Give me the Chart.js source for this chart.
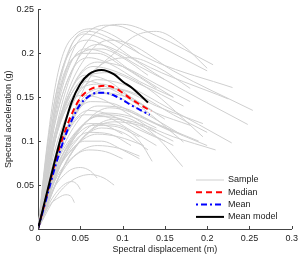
<!DOCTYPE html>
<html>
<head>
<meta charset="utf-8">
<script src="https://cdn.jsdelivr.net/npm/chart.js@4"></script>
<style>
  html, body { margin: 0; padding: 0; background: #fff; }
  #wrap { width: 302px; height: 257px; }
</style>
</head>
<body>
<div id="wrap"><canvas id="capacityChart" width="302" height="257"></canvas></div>
<script>
// tick labels
const xTickLabels = ['0', '0.05', '0.1', '0.15', '0.2', '0.25', '0.3'];
const yTickLabels = ['0', '0.05', '0.1', '0.15', '0.2', '0.25'];
const legendLabels = ['Sample', 'Median', 'Mean', 'Mean model'];

// Sample curves: [displacement (m), acceleration (g)]
const samples = [
    [[0,0],[0.02,0.13],[0.04,0.2],[0.06,0.225],[0.08,0.232],[0.1,0.23],[0.13,0.215],[0.2,0.18]],
    [[0,0],[0.025,0.13],[0.05,0.2],[0.075,0.228],[0.1,0.233],[0.14,0.22],[0.207,0.187]],
    [[0,0],[0.02,0.14],[0.04,0.21],[0.06,0.225],[0.09,0.215],[0.14,0.19],[0.23,0.161]],
    [[0,0],[0.015,0.12],[0.035,0.2],[0.055,0.222],[0.08,0.215],[0.12,0.19],[0.225,0.148]],
    [[0,0],[0.03,0.14],[0.06,0.2],[0.085,0.215],[0.11,0.21],[0.16,0.18],[0.254,0.135]],
    [[0,0],[0.02,0.12],[0.045,0.19],[0.07,0.21],[0.1,0.2],[0.15,0.17],[0.248,0.119]],
    [[0,0],[0.015,0.1],[0.035,0.18],[0.055,0.205],[0.08,0.2],[0.11,0.18],[0.16,0.15]],
    [[0,0],[0.012,0.09],[0.03,0.17],[0.05,0.2],[0.07,0.2],[0.1,0.185],[0.14,0.16]],
    [[0,0],[0.03,0.1],[0.06,0.17],[0.09,0.2],[0.115,0.22],[0.14,0.225],[0.17,0.21],[0.2,0.183]],
    [[0,0],[0.01,0.09],[0.02,0.16],[0.03,0.2],[0.045,0.222],[0.065,0.228],[0.09,0.22],[0.12,0.2]],
    [[0,0],[0.012,0.1],[0.025,0.17],[0.04,0.205],[0.06,0.215],[0.085,0.205],[0.12,0.185],[0.15,0.17]],
    [[0,0],[0.015,0.11],[0.03,0.175],[0.05,0.2],[0.075,0.205],[0.1,0.195],[0.13,0.175]],
    [[0,0],[0.025,0.1],[0.05,0.16],[0.08,0.19],[0.11,0.195],[0.14,0.185],[0.18,0.16]],
    [[0,0],[0.02,0.1],[0.04,0.16],[0.065,0.185],[0.09,0.18],[0.13,0.16],[0.195,0.105]],
    [[0,0],[0.015,0.08],[0.035,0.145],[0.06,0.175],[0.085,0.178],[0.12,0.165],[0.172,0.14]],
    [[0,0],[0.02,0.09],[0.045,0.15],[0.07,0.17],[0.1,0.165],[0.15,0.14],[0.229,0.098]],
    [[0,0],[0.018,0.1],[0.04,0.155],[0.06,0.168],[0.085,0.16],[0.12,0.14],[0.172,0.099]],
    [[0,0],[0.025,0.09],[0.05,0.145],[0.075,0.16],[0.1,0.158],[0.14,0.14],[0.195,0.12]],
    [[0,0],[0.01,0.06],[0.03,0.13],[0.05,0.16],[0.075,0.165],[0.1,0.155],[0.135,0.135]],
    [[0,0],[0.02,0.08],[0.045,0.135],[0.07,0.155],[0.095,0.15],[0.13,0.13],[0.17,0.107]],
    [[0,0],[0.03,0.1],[0.06,0.15],[0.09,0.16],[0.12,0.152],[0.16,0.13],[0.2,0.11]],
    [[0,0],[0.012,0.07],[0.03,0.13],[0.05,0.152],[0.07,0.15],[0.1,0.135],[0.14,0.11]],
    [[0,0],[0.015,0.09],[0.035,0.15],[0.055,0.175],[0.08,0.17],[0.11,0.15],[0.15,0.125]],
    [[0,0],[0.022,0.11],[0.045,0.17],[0.07,0.19],[0.1,0.185],[0.14,0.165],[0.18,0.145]],
    [[0,0],[0.02,0.12],[0.04,0.18],[0.06,0.195],[0.085,0.188],[0.12,0.168],[0.16,0.15]],
    [[0,0],[0.02,0.07],[0.045,0.12],[0.07,0.14],[0.1,0.138],[0.14,0.12],[0.19,0.1]],
    [[0,0],[0.03,0.08],[0.06,0.125],[0.085,0.138],[0.11,0.133],[0.15,0.115],[0.2,0.095]],
    [[0,0],[0.015,0.06],[0.035,0.11],[0.055,0.13],[0.08,0.128],[0.11,0.112],[0.14,0.095]],
    [[0,0],[0.025,0.07],[0.05,0.115],[0.08,0.13],[0.11,0.125],[0.14,0.105],[0.171,0.071]],
    [[0,0],[0.02,0.06],[0.045,0.1],[0.07,0.12],[0.095,0.118],[0.12,0.1],[0.135,0.077]],
    [[0,0],[0.03,0.07],[0.06,0.11],[0.09,0.122],[0.12,0.118],[0.16,0.1]],
    [[0,0],[0.015,0.05],[0.035,0.09],[0.06,0.11],[0.085,0.108],[0.11,0.095]],
    [[0,0],[0.025,0.06],[0.05,0.1],[0.075,0.115],[0.1,0.11],[0.13,0.09]],
    [[0,0],[0.02,0.08],[0.04,0.12],[0.06,0.135],[0.085,0.13],[0.115,0.115],[0.15,0.1]],
    [[0,0],[0.035,0.08],[0.065,0.115],[0.09,0.125],[0.12,0.12],[0.16,0.105],[0.21,0.09]],
    [[0,0],[0.018,0.075],[0.04,0.125],[0.062,0.145],[0.088,0.143],[0.12,0.128],[0.16,0.11]],
    [[0,0],[0.025,0.09],[0.05,0.14],[0.078,0.155],[0.105,0.15],[0.14,0.132],[0.18,0.118]],
    [[0,0],[0.02,0.065],[0.045,0.11],[0.07,0.128],[0.1,0.125],[0.13,0.11],[0.16,0.095]],
    [[0,0],[0.015,0.055],[0.04,0.1],[0.065,0.118],[0.09,0.117],[0.12,0.105]],
    [[0,0],[0.025,0.075],[0.055,0.12],[0.08,0.132],[0.11,0.128],[0.14,0.115]],
    [[0,0],[0.018,0.065],[0.04,0.105],[0.06,0.12],[0.08,0.118],[0.1,0.108]],
    [[0,0],[0.012,0.025],[0.025,0.036],[0.033,0.039],[0.04,0.036],[0.043,0.03]],
    [[0,0],[0.015,0.032],[0.03,0.05],[0.04,0.054],[0.047,0.05],[0.05,0.045]],
    [[0,0],[0.02,0.035],[0.04,0.055],[0.062,0.062],[0.078,0.058],[0.09,0.05]],
    [[0,0],[0.015,0.04],[0.035,0.065],[0.05,0.07],[0.062,0.066],[0.07,0.058]],
    [[0,0],[0.02,0.05],[0.04,0.08],[0.06,0.09],[0.08,0.088],[0.1,0.08]],
    [[0,0],[0.02,0.055],[0.045,0.085],[0.07,0.095],[0.095,0.092],[0.12,0.083]],
    [[0,0],[0.015,0.05],[0.035,0.085],[0.055,0.1],[0.075,0.1],[0.1,0.09],[0.12,0.08]],
    [[0,0],[0.02,0.06],[0.045,0.095],[0.07,0.108],[0.095,0.105],[0.125,0.095]]
];

// Median / mean / mean model curves
const medianCurve = [[0,0],[0.01,0.037],[0.02,0.075],[0.03,0.106],[0.04,0.131],[0.05,0.149],[0.06,0.158],[0.07,0.162],[0.08,0.163],[0.09,0.161],[0.1,0.155],[0.11,0.148],[0.12,0.142],[0.134,0.134]];
const meanCurve = [[0,0],[0.01,0.035],[0.02,0.07],[0.03,0.1],[0.04,0.124],[0.05,0.142],[0.06,0.151],[0.07,0.155],[0.08,0.155],[0.09,0.152],[0.1,0.147],[0.11,0.141],[0.12,0.136],[0.132,0.13]];
const meanModelCurve = [[0,0],[0.01,0.039],[0.02,0.078],[0.03,0.114],[0.04,0.145],[0.05,0.165],[0.06,0.176],[0.075,0.181],[0.09,0.176],[0.1,0.168],[0.112,0.16],[0.12,0.153],[0.13,0.144]];

const toXY = pts => pts.map(p => ({ x: p[0], y: p[1] }));

const datasets = [
    { label: 'Mean model', data: toXY(meanModelCurve), borderColor: '#000000', borderWidth: 2, order: 0 },
    { label: 'Mean', data: toXY(meanCurve), borderColor: '#0000ff', borderWidth: 2, borderDash: [6, 3, 2, 3], order: 1 },
    { label: 'Median', data: toXY(medianCurve), borderColor: '#ff0000', borderWidth: 2, borderDash: [6, 4], order: 2 }
];
samples.forEach(s => {
    datasets.push({ label: 'Sample', data: toXY(s), borderColor: '#cfcfcf', borderWidth: 1, order: 3 });
});

// Ticks pointing inward + legend, drawn the MATLAB way
const matlabDecor = {
    id: 'matlabDecor',
    afterDraw(chart) {
        const { ctx, chartArea, scales } = chart;
        ctx.save();
        ctx.strokeStyle = '#444';
        ctx.lineWidth = 1;
        ctx.beginPath();
        scales.x.ticks.forEach(t => {
            const px = Math.round(scales.x.getPixelForValue(t.value)) + 0.5;
            ctx.moveTo(px, chartArea.bottom);
            ctx.lineTo(px, chartArea.bottom - 3);
        });
        scales.y.ticks.forEach(t => {
            const py = Math.round(scales.y.getPixelForValue(t.value)) + 0.5;
            ctx.moveTo(chartArea.left, py);
            ctx.lineTo(chartArea.left + 3, py);
        });
        ctx.stroke();

        // legend
        const styles = [
            { color: '#cfcfcf', width: 1, dash: [] },
            { color: '#ff0000', width: 2, dash: [6, 4] },
            { color: '#0000ff', width: 2, dash: [2, 3, 6, 3] },
            { color: '#000000', width: 2, dash: [] }
        ];
        ctx.font = '9px "Liberation Sans", Arial, sans-serif';
        ctx.textBaseline = 'middle';
        ctx.fillStyle = '#222';
        legendLabels.forEach((lbl, i) => {
            const y = 180 + i * 12.3;
            ctx.setLineDash(styles[i].dash);
            ctx.strokeStyle = styles[i].color;
            ctx.lineWidth = styles[i].width;
            ctx.beginPath();
            ctx.moveTo(196, y);
            ctx.lineTo(224, y);
            ctx.stroke();
            ctx.fillText(lbl, 228, y);
        });
        ctx.restore();
    }
};

const tickFont = { family: '"Liberation Sans", Arial, sans-serif', size: 9 };

new Chart(document.getElementById('capacityChart'), {
    type: 'scatter',
    data: { datasets: datasets },
    options: {
        responsive: false,
        animation: false,
        showLine: true,
        layout: { padding: { left: 0, right: 9, top: 6, bottom: 0 } },
        elements: {
            point: { radius: 0, hoverRadius: 0 },
            line: { cubicInterpolationMode: 'monotone', fill: false }
        },
        plugins: {
            legend: { display: false },
            tooltip: { enabled: false }
        },
        scales: {
            x: {
                type: 'linear',
                min: 0,
                max: 0.3,
                afterFit: s => { s.height = 28; },
                grid: { display: false, drawTicks: false },
                border: { display: true, color: '#444', width: 1 },
                ticks: {
                    stepSize: 0.05,
                    padding: 4,
                    color: '#222',
                    font: tickFont,
                    maxRotation: 0,
                    callback: (v, i) => xTickLabels[i]
                },
                title: {
                    display: true,
                    text: 'Spectral displacement (m)',
                    color: '#222',
                    font: tickFont,
                    padding: { top: 0, bottom: 2 }
                }
            },
            y: {
                type: 'linear',
                min: 0,
                max: 0.25,
                afterFit: s => { s.width = 38; },
                grid: { display: false, drawTicks: false },
                border: { display: true, color: '#444', width: 1 },
                ticks: {
                    stepSize: 0.05,
                    padding: 4,
                    color: '#222',
                    font: tickFont,
                    callback: (v, i) => yTickLabels[i]
                },
                title: {
                    display: true,
                    text: 'Spectral acceleration (g)',
                    color: '#222',
                    font: tickFont,
                    padding: { top: 3, bottom: 0 }
                }
            }
        }
    },
    plugins: [matlabDecor]
});
</script>
</body>
</html>
